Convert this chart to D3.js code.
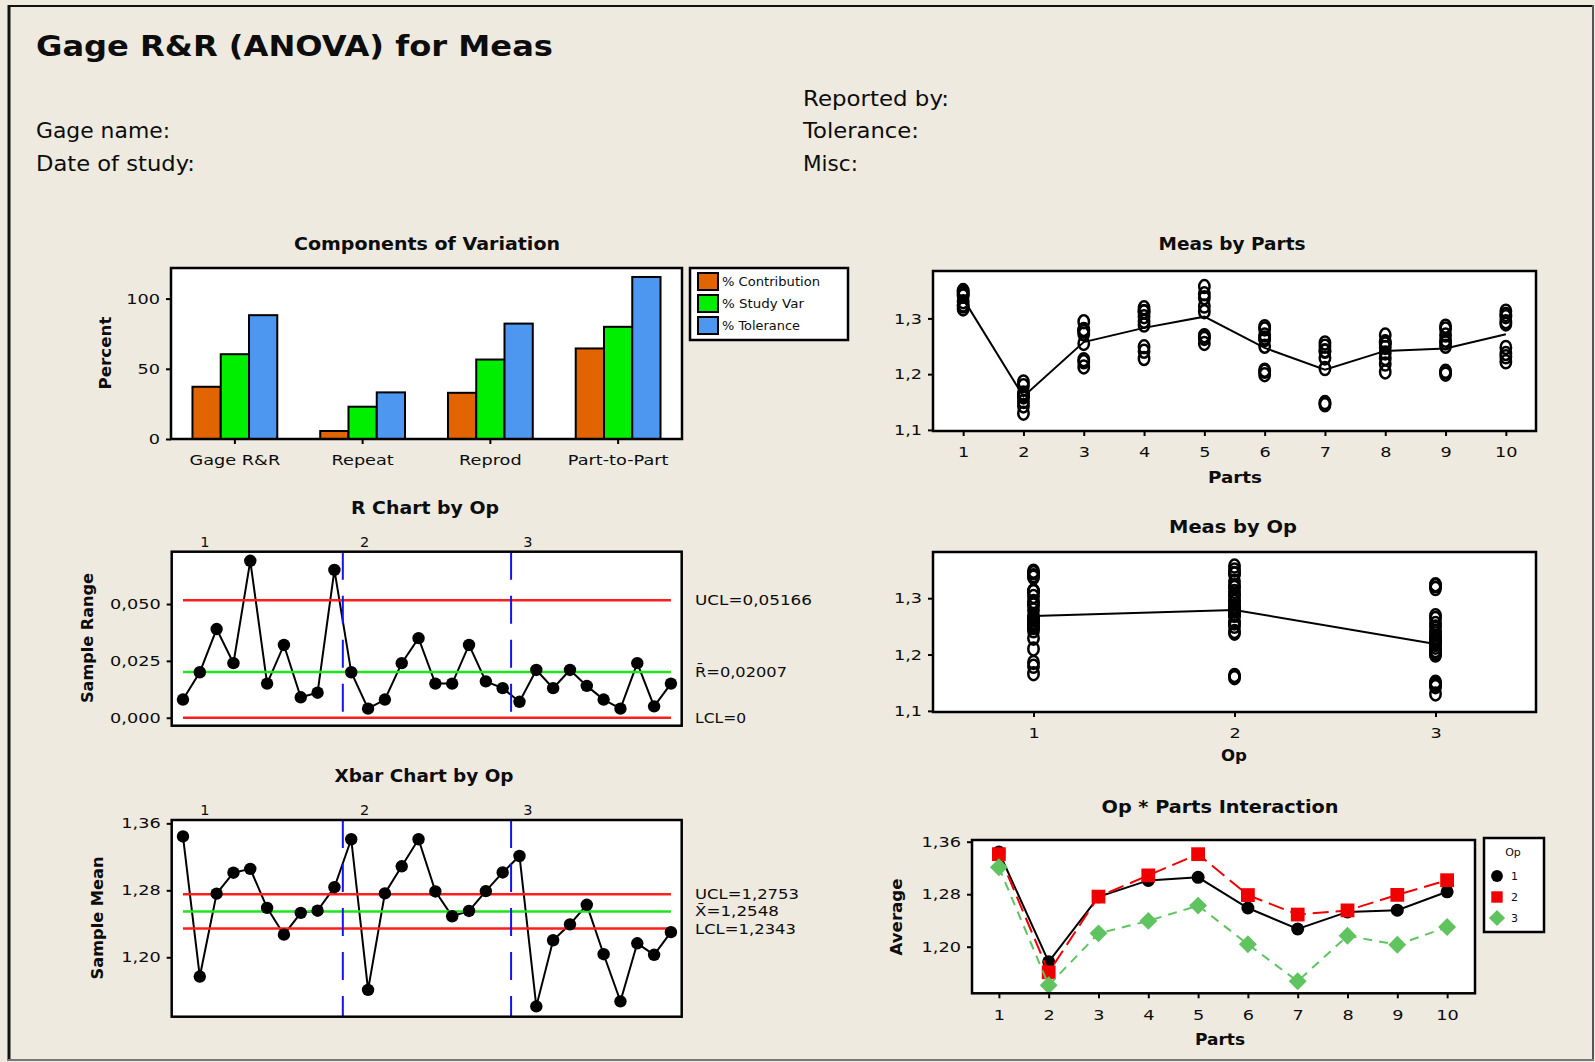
<!DOCTYPE html>
<html lang="en">
<head>
<meta charset="utf-8">
<title>Gage R&R (ANOVA) for Meas</title>
<script src="https://cdn.jsdelivr.net/npm/d3@7"></script>
<style>
  body { margin:0; }
  svg { display:block; font-family:"DejaVu Sans", sans-serif; }
</style>
</head>
<body>
<script>
var width = 1595, height = 1062;

// components of variation (percent)
var components = ["Gage R&R", "Repeat", "Reprod", "Part-to-Part"];
var compSeries = ["% Contribution", "% Study Var", "% Tolerance"];
var pctContribution = [37.2, 5.7, 32.9, 64.5];
var pctStudyVar = [60.4, 23.0, 56.6, 79.9];
var pctTolerance = [88.2, 33.2, 82.2, 115.4];
var compColors = ["#E26400", "#00EE00", "#4E97F0"];

// measurements, 3 trials per part, one array per operator
var parts = [1, 2, 3, 4, 5, 6, 7, 8, 9, 10];
var ops = [1, 2, 3];
var op1Meas = [
  [1.340, 1.345, 1.348], [1.166, 1.179, 1.186], [1.255, 1.279, 1.294],
  [1.288, 1.303, 1.312], [1.268, 1.312, 1.337], [1.250, 1.262, 1.265],
  [1.210, 1.229, 1.242], [1.248, 1.254, 1.257], [1.250, 1.256, 1.261],
  [1.248, 1.290, 1.313]
];
var op2Meas = [
  [1.330, 1.343, 1.350], [1.159, 1.161, 1.163], [1.272, 1.277, 1.280],
  [1.295, 1.312, 1.319], [1.322, 1.344, 1.357], [1.270, 1.281, 1.285],
  [1.241, 1.250, 1.256], [1.238, 1.258, 1.270], [1.270, 1.281, 1.286],
  [1.294, 1.303, 1.307]
];
var op3Meas = [
  [1.317, 1.322, 1.324], [1.130, 1.143, 1.151], [1.213, 1.222, 1.226],
  [1.228, 1.241, 1.249], [1.255, 1.264, 1.269], [1.199, 1.205, 1.207],
  [1.145, 1.148, 1.149], [1.204, 1.218, 1.228], [1.200, 1.204, 1.205],
  [1.222, 1.231, 1.237]
];

// control limits printed on the charts
var rBar = 0.02007, rUCL = 0.05166, rLCL = 0;
var xBarBar = 1.2548, xUCL = 1.2753, xLCL = 1.2343;

// tick values
var compTicks = [0, 50, 100];
var measTicks = [1.1, 1.2, 1.3];
var rTicks = [0, 0.025, 0.05];
var xbarTicks = [1.20, 1.28, 1.36];
var opLabelAt = [2.3, 11.8, 21.5];

var loc = d3.formatLocale({decimal: ",", thousands: ".", grouping: [3], currency: ["", ""]});

var svg = d3.select("body").append("svg")
    .attr("width", width)
    .attr("height", height);

svg.append("rect").attr("width", width).attr("height", height).attr("fill", "#EEEAE0");
svg.append("line").attr("x1", 9).attr("x2", 9).attr("y1", 5).attr("y2", 1061).attr("stroke", "#111").attr("stroke-width", 3);
svg.append("line").attr("x1", 8).attr("x2", 1594).attr("y1", 6).attr("y2", 6).attr("stroke", "#111").attr("stroke-width", 2);
svg.append("line").attr("x1", 1593).attr("x2", 1593).attr("y1", 5).attr("y2", 1061).attr("stroke", "#555").attr("stroke-width", 2);
svg.append("line").attr("x1", 8).attr("x2", 1594).attr("y1", 1060).attr("y2", 1060).attr("stroke", "#777").attr("stroke-width", 2);

function fit(sel, w) {
    return sel.attr("textLength", w).attr("lengthAdjust", "spacingAndGlyphs");
}
function stretch(sel, k) {
    sel.each(function() {
        var n = this.getComputedTextLength();
        d3.select(this).attr("textLength", n * k).attr("lengthAdjust", "spacingAndGlyphs");
    });
}
function txt(x, y, s, size, opt) {
    opt = opt || {};
    var t = svg.append("text")
        .attr("x", x).attr("y", y)
        .attr("font-size", size)
        .attr("font-weight", opt.bold ? "bold" : "normal")
        .attr("text-anchor", opt.anchor || "start")
        .attr("fill", "#0d0d0d")
        .text(s);
    if (opt.w) fit(t, opt.w);
    return t;
}
function rotText(x, y, s, size, w) {
    var t = svg.append("text")
        .attr("transform", "translate(" + x + "," + y + ") rotate(-90)")
        .attr("font-size", size).attr("font-weight", "bold")
        .attr("text-anchor", "middle").attr("fill", "#0d0d0d")
        .text(s);
    return fit(t, w);
}
function box(x0, y0, x1, y1, fillOnly) {
    return svg.append("rect")
        .attr("x", x0).attr("y", y0).attr("width", x1 - x0).attr("height", y1 - y0)
        .attr("fill", fillOnly ? "#fff" : "none")
        .attr("stroke", fillOnly ? "none" : "#000")
        .attr("stroke-width", 2.5);
}
function styleAxis(g) {
    g.select(".domain").remove();
    g.attr("font-family", null).attr("font-size", 14.5);
    g.selectAll(".tick line").attr("stroke", "#000").attr("stroke-width", 2);
    g.selectAll(".tick text").attr("fill", "#0d0d0d");
    stretch(g.selectAll(".tick text"), 1.22);
}

// header
txt(36, 56, "Gage R&R (ANOVA) for Meas", 28, {bold: true, w: 517});
txt(36, 138, "Gage name:", 21, {w: 134});
txt(36, 171, "Date of study:", 21, {w: 159});
txt(803, 106, "Reported by:", 21, {w: 146});
txt(803, 138, "Tolerance:", 21, {w: 116});
txt(803, 171, "Misc:", 21, {w: 55});

// ---- Components of Variation ----
var cx0 = d3.scaleBand().domain(components).range([171, 682]);
var cx1 = d3.scaleBand().domain(compSeries).range([0, cx0.bandwidth()]).paddingOuter(0.76);
var cy = d3.scaleLinear().domain([0, 121.8]).range([439, 268]);
var compValues = [pctContribution, pctStudyVar, pctTolerance];

box(171, 268, 682, 439, true);
var cg = svg.append("g");
compSeries.forEach(function(s, si) {
    cg.selectAll(null).data(components).enter().append("rect")
        .attr("x", function(c) { return cx0(c) + cx1(s); })
        .attr("y", function(c, i) { return cy(compValues[si][i]); })
        .attr("width", cx1.bandwidth())
        .attr("height", function(c, i) { return cy(0) - cy(compValues[si][i]); })
        .attr("fill", compColors[si])
        .attr("stroke", "#000").attr("stroke-width", 2);
});
box(171, 268, 682, 439);
svg.append("g").attr("transform", "translate(171,0)")
    .call(d3.axisLeft(cy).tickValues(compTicks).tickSize(5).tickPadding(6)).call(styleAxis);
svg.append("g").attr("transform", "translate(0,439)")
    .call(d3.axisBottom(cx0).tickSize(5).tickPadding(11)).call(styleAxis);
txt(427, 250, "Components of Variation", 18, {bold: true, anchor: "middle", w: 266});
rotText(111, 353, "Percent", 16, 73);

// legend
box(690, 268, 848, 340, true);
box(690, 268, 848, 340);
compSeries.forEach(function(s, i) {
    svg.append("rect").attr("x", 698).attr("y", 273 + i * 22).attr("width", 20).attr("height", 17)
        .attr("fill", compColors[i]).attr("stroke", "#000").attr("stroke-width", 2);
    txt(722, 286 + i * 22, s, 12, {w: [98, 82, 78][i]});
});

// ---- Meas by Parts ----
var px = d3.scaleLinear().domain([0.5, 10.5]).range([933, 1536]);
var py = d3.scaleLinear().domain([1.098, 1.385]).range([431, 271]);
var allOps = [op1Meas, op2Meas, op3Meas];
var partMeans = parts.map(function(p, i) {
    return d3.mean(d3.merge(allOps.map(function(o) { return o[i]; })));
});
box(933, 271, 1536, 431, true);
var mp = svg.append("g");
parts.forEach(function(p, i) {
    allOps.forEach(function(o) {
        mp.selectAll(null).data(o[i]).enter().append("ellipse")
            .attr("cx", px(p)).attr("cy", function(v) { return py(v); })
            .attr("rx", 5.2).attr("ry", 6.5)
            .attr("fill", "none").attr("stroke", "#000").attr("stroke-width", 2.5);
    });
});
mp.append("path").datum(partMeans)
    .attr("d", d3.line().x(function(d, i) { return px(parts[i]); }).y(function(d) { return py(d); }))
    .attr("fill", "none").attr("stroke", "#000").attr("stroke-width", 2);
box(933, 271, 1536, 431);
svg.append("g").attr("transform", "translate(933,0)")
    .call(d3.axisLeft(py).tickValues(measTicks).tickFormat(loc.format(".1f")).tickSize(5).tickPadding(6)).call(styleAxis);
svg.append("g").attr("transform", "translate(0,431)")
    .call(d3.axisBottom(px).tickValues(parts).tickFormat(d3.format("d")).tickSize(5).tickPadding(11)).call(styleAxis);
txt(1232, 250, "Meas by Parts", 18, {bold: true, anchor: "middle", w: 147});
txt(1235, 483, "Parts", 16, {bold: true, anchor: "middle", w: 54});

// ---- Meas by Op ----
var ox = d3.scaleLinear().domain([0.5, 3.5]).range([933, 1536]);
var oy = d3.scaleLinear().domain([1.098, 1.382]).range([712, 552]);
var opMeans = allOps.map(function(o) { return d3.mean(d3.merge(o)); });
box(933, 552, 1536, 712, true);
var mo = svg.append("g");
allOps.forEach(function(o, k) {
    mo.selectAll(null).data(d3.merge(o)).enter().append("ellipse")
        .attr("cx", ox(ops[k])).attr("cy", function(v) { return oy(v); })
        .attr("rx", 5.2).attr("ry", 6.5)
        .attr("fill", "none").attr("stroke", "#000").attr("stroke-width", 2.5);
});
mo.append("path").datum(opMeans)
    .attr("d", d3.line().x(function(d, i) { return ox(ops[i]); }).y(function(d) { return oy(d); }))
    .attr("fill", "none").attr("stroke", "#000").attr("stroke-width", 2);
box(933, 552, 1536, 712);
svg.append("g").attr("transform", "translate(933,0)")
    .call(d3.axisLeft(oy).tickValues(measTicks).tickFormat(loc.format(".1f")).tickSize(5).tickPadding(6)).call(styleAxis);
svg.append("g").attr("transform", "translate(0,712)")
    .call(d3.axisBottom(ox).tickValues(ops).tickFormat(d3.format("d")).tickSize(5).tickPadding(11)).call(styleAxis);
txt(1233, 533, "Meas by Op", 18, {bold: true, anchor: "middle", w: 128});
txt(1234, 761, "Op", 16, {bold: true, anchor: "middle", w: 26});

// ---- subgroup statistics (op1 parts 1-10, op2 ..., op3 ...) ----
var subgroups = d3.merge(allOps);
var idx = d3.range(1, subgroups.length + 1);
var xbars = subgroups.map(function(g) { return d3.mean(g); });
var ranges = subgroups.map(function(g) { return d3.max(g) - d3.min(g); });
var sx = d3.scaleLinear().domain([0.33, 30.64]).range([171.7, 681.7]);

function controlChart(y, vals, top, bottom, lims, tickVals, fmt) {
    box(171.7, top, 681.7, bottom, true);
    var g = svg.append("g");
    g.append("path").datum(vals)
        .attr("d", d3.line().x(function(d, i) { return sx(idx[i]); }).y(function(d) { return y(d); }))
        .attr("fill", "none").attr("stroke", "#000").attr("stroke-width", 2);
    lims.forEach(function(l) {
        g.append("line").attr("x1", sx(1)).attr("x2", sx(30))
            .attr("y1", y(l.v)).attr("y2", y(l.v))
            .attr("stroke", l.c).attr("stroke-width", 2.5);
    });
    [10.5, 20.5].forEach(function(d) {
        g.append("line").attr("x1", sx(d)).attr("x2", sx(d))
            .attr("y1", top).attr("y2", bottom)
            .attr("stroke", "#1414F0").attr("stroke-width", 2)
            .attr("stroke-dasharray", "28,16");
    });
    g.selectAll(null).data(vals).enter().append("circle")
        .attr("cx", function(d, i) { return sx(idx[i]); })
        .attr("cy", function(d) { return y(d); })
        .attr("r", 6.2).attr("fill", "#000");
    box(171.7, top, 681.7, bottom);
    svg.append("g").attr("transform", "translate(171.7,0)")
        .call(d3.axisLeft(y).tickValues(tickVals).tickFormat(fmt).tickSize(5).tickPadding(6)).call(styleAxis);
    ops.forEach(function(o, k) {
        txt(sx(opLabelAt[k]), top - 5, String(o), 14.5, {anchor: "middle"});
    });
}

// ---- R chart ----
var ry = d3.scaleLinear().domain([-0.0035, 0.073]).range([725.7, 551.7]);
controlChart(ry, ranges, 551.7, 725.7,
    [{v: rUCL, c: "#FF1E1E"}, {v: rBar, c: "#1EE61E"}, {v: rLCL, c: "#FF1E1E"}],
    rTicks, loc.format(".3f"));
txt(695, ry(rUCL) + 5, "UCL=" + loc.format(".5f")(rUCL), 14.5, {w: 117});
txt(695, ry(rBar) + 5, "R\u0304=" + loc.format(".5f")(rBar), 14.5, {w: 92});
txt(695, ry(rLCL) + 5, "LCL=" + rLCL, 14.5, {w: 51});
txt(425, 514, "R Chart by Op", 18, {bold: true, anchor: "middle", w: 148});
rotText(93, 638, "Sample Range", 16, 130);

// ---- Xbar chart ----
var xy = d3.scaleLinear().domain([1.129, 1.364]).range([1016.7, 820]);
controlChart(xy, xbars, 820, 1016.7,
    [{v: xUCL, c: "#FF1E1E"}, {v: xBarBar, c: "#1EE61E"}, {v: xLCL, c: "#FF1E1E"}],
    xbarTicks, loc.format(".2f"));
txt(695, xy(xUCL) + 5, "UCL=" + loc.format(".4f")(xUCL), 14.5, {w: 104});
txt(695, xy(xBarBar) + 5, "X\u0304=" + loc.format(".4f")(xBarBar), 14.5, {w: 84});
txt(695, xy(xLCL) + 5, "LCL=" + loc.format(".4f")(xLCL), 14.5, {w: 101});
txt(424, 782, "Xbar Chart by Op", 18, {bold: true, anchor: "middle", w: 179});
rotText(103, 918, "Sample Mean", 16, 123);

// ---- Op * Parts Interaction ----
var ix = d3.scaleLinear().domain([0.46, 10.56]).range([972, 1475]);
var iy = d3.scaleLinear().domain([1.129, 1.3626]).range([993.3, 840]);
var opStyles = [
    {c: "#000", dash: null, sym: d3.symbol(d3.symbolCircle, 133), rot: 0},
    {c: "#F00000", dash: "16,7", sym: d3.symbol(d3.symbolSquare, 190), rot: 0},
    {c: "#5FC35F", dash: "9,7", sym: d3.symbol(d3.symbolSquare, 160), rot: 45}
];
box(972, 840, 1475, 993.3, true);
var ig = svg.append("g");
allOps.forEach(function(o, k) {
    var means = o.map(function(t) { return d3.mean(t); });
    var st = opStyles[k];
    ig.append("path").datum(means)
        .attr("d", d3.line().x(function(d, i) { return ix(parts[i]); }).y(function(d) { return iy(d); }))
        .attr("fill", "none").attr("stroke", st.c).attr("stroke-width", 2)
        .attr("stroke-dasharray", st.dash);
    ig.selectAll(null).data(means).enter().append("path")
        .attr("d", st.sym)
        .attr("transform", function(d, i) { return "translate(" + ix(parts[i]) + "," + iy(d) + ") rotate(" + st.rot + ")"; })
        .attr("fill", st.c);
});
box(972, 840, 1475, 993.3);
svg.append("g").attr("transform", "translate(972,0)")
    .call(d3.axisLeft(iy).tickValues(xbarTicks).tickFormat(loc.format(".2f")).tickSize(5).tickPadding(6)).call(styleAxis);
svg.append("g").attr("transform", "translate(0,993.3)")
    .call(d3.axisBottom(ix).tickValues(parts).tickFormat(d3.format("d")).tickSize(5).tickPadding(11)).call(styleAxis);
txt(1220, 813, "Op * Parts Interaction", 18, {bold: true, anchor: "middle", w: 237});
txt(1220, 1045, "Parts", 16, {bold: true, anchor: "middle", w: 50});
rotText(902, 917, "Average", 16, 77);

// interaction legend
box(1484, 838, 1544, 932, true);
box(1484, 838, 1544, 932);
txt(1513, 856, "Op", 11, {anchor: "middle"});
ops.forEach(function(o, k) {
    var st = opStyles[k];
    var yy = 876 + k * 21;
    svg.append("path")
        .attr("d", d3.symbol(st.sym.type(), k === 0 ? 110 : 130))
        .attr("transform", "translate(1497," + yy + ") rotate(" + st.rot + ")")
        .attr("fill", st.c);
    txt(1511, yy + 4, String(o), 11);
});
</script>
</body>
</html>
